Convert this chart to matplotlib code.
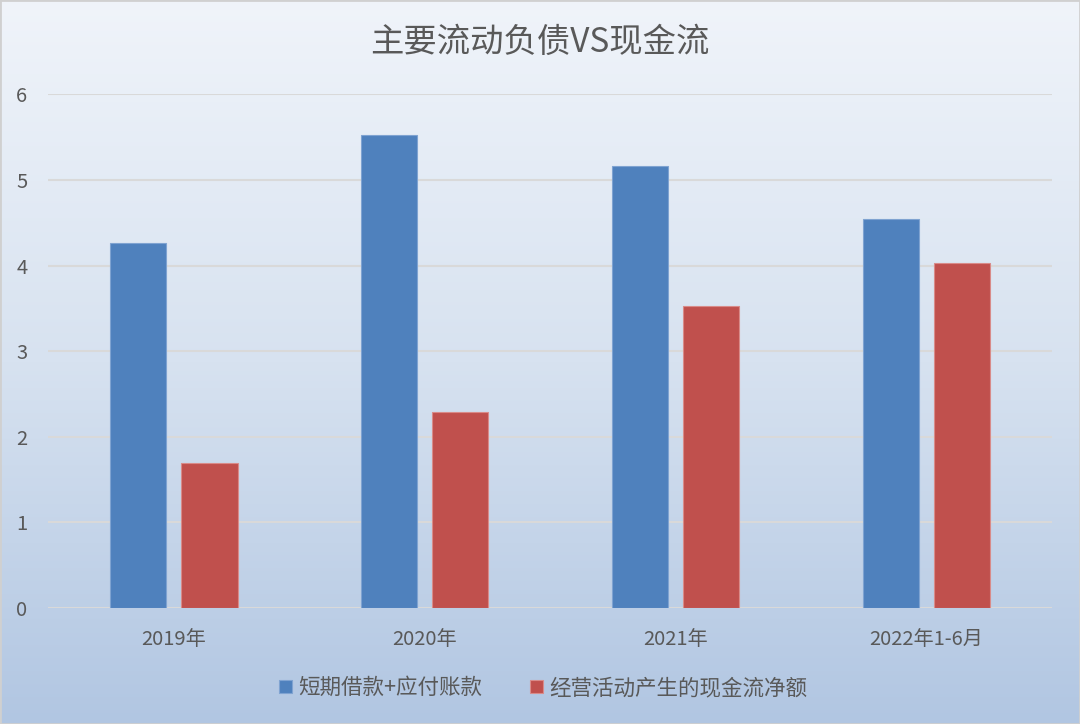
import numpy as np
import matplotlib
matplotlib.use("Agg")
import matplotlib.pyplot as plt
from matplotlib.colors import LinearSegmentedColormap
from matplotlib.patches import Rectangle

plt.rcParams["font.family"] = ["Noto Sans CJK SC", "DejaVu Sans"]

categories = ["2019年", "2020年", "2021年", "2022年1-6月"]
debt = [4.26, 5.53, 5.16, 4.54]
cash_flow = [1.69, 2.29, 3.53, 4.03]
series_names = ["短期借款+应付账款", "经营活动产生的现金流净额"]
title = "主要流动负债VS现金流"

W, H = 1080, 724
fig = plt.figure(figsize=(W / 100, H / 100), dpi=100)

# background gradient, light at top, bluish at bottom
bg = fig.add_axes([0, 0, 1, 1], zorder=0)
cmap = LinearSegmentedColormap.from_list("bg", ["#f0f4fa", "#d7e2f0", "#b1c6e2"])
grad = np.linspace(0, 1, 256).reshape(-1, 1)
bg.imshow(grad, aspect="auto", cmap=cmap, extent=[0, 1, 0, 1], origin="upper")
bg.add_patch(Rectangle((0, 0), 1, 1, fill=False, edgecolor="#d0d0d0", linewidth=2,
                       transform=bg.transAxes))
bg.set_axis_off()

ax_l, ax_r, ax_t, ax_b = 48.2, 1052, 94.3, 607.9
ax = fig.add_axes([ax_l / W, 1 - ax_b / H, (ax_r - ax_l) / W, (ax_b - ax_t) / H], zorder=1)
ax.patch.set_alpha(0)

x = np.arange(len(categories))
w = 0.225
off = 0.142
ax.bar(x - off, debt, w, color="#4f81bd", edgecolor="#7fa3d1", linewidth=0.8,
       label=series_names[0], zorder=3)
ax.bar(x + off, cash_flow, w, color="#c0504d", edgecolor="#d98b89", linewidth=0.8,
       label=series_names[1], zorder=3)

ax.set_xlim(-0.5, len(categories) - 0.5)
ax.set_ylim(0, 6)
ax.set_yticks(range(7))
ax.yaxis.grid(True, color="#d9d9d9", linewidth=1.5, zorder=0)
ax.set_axisbelow(True)
for s in ax.spines.values():
    s.set_visible(False)
ax.tick_params(axis="both", length=0, colors="#595959", labelsize=14.5)
ax.tick_params(axis="y", pad=15)
ax.tick_params(axis="x", pad=15)
ax.set_xticks(x)
ax.set_xticklabels(categories)

fig.text(0.5, 1 - 42 / H, title, ha="center", va="center", fontsize=24, color="#595959")

ax.legend(loc="center", bbox_to_anchor=(0.5 - 7 / (ax_r - ax_l), (ax_b - 688) / (ax_b - ax_t)),
          ncol=2, frameon=False, fontsize=15.5, labelcolor="#595959", handlelength=0.6,
          handleheight=0.6, handletextpad=0.3, columnspacing=2.2)

fig.savefig("out.png", dpi=100)
